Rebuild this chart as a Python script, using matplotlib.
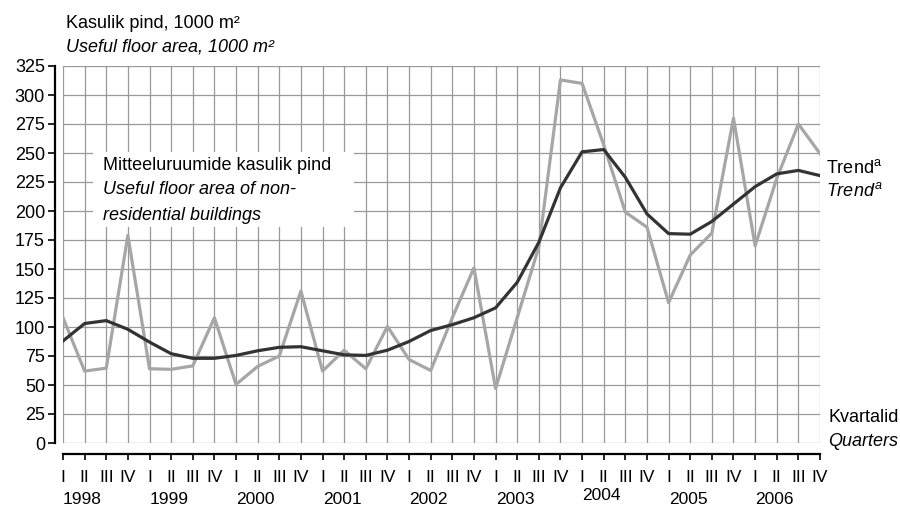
import matplotlib
matplotlib.use("Agg")
import matplotlib.pyplot as plt
from matplotlib.patches import Rectangle
from matplotlib.transforms import blended_transform_factory
import numpy as np

plt.rcParams['font.family'] = ['Liberation Sans', 'DejaVu Sans']
plt.rcParams['mathtext.fontset'] = 'custom'
plt.rcParams['mathtext.rm'] = 'Liberation Sans'
plt.rcParams['mathtext.it'] = 'Liberation Sans:italic'

font_size = 13
xtick_fontsize = 12.5

# data, 1998 I .. 2006 IV
years = ["1998", "1999", "2000", "2001", "2002", "2003", "2004", "2005", "2006"]
quarters = ["I", "II", "III", "IV"]

floor_area = [108, 62, 64.5, 179, 64, 63.5, 66.5, 108, 50.5, 66, 75, 131,
              62, 80, 64, 100.5, 72, 62.5, 108, 151, 47, 108, 169, 313,
              310, 257, 199, 186, 121, 162, 181, 280, 170, 228, 275, 249.5]

trend = [88, 103, 105.5, 98, 87, 77, 73, 73, 75.5, 79.5, 82.5, 83,
         79.5, 76, 75.5, 80, 87.5, 97, 102, 108, 116.5, 138.5, 173, 220,
         251, 253, 229, 197.5, 180.5, 180, 191, 206, 221, 232, 235, 230.5]

y_ticks = [0, 25, 50, 75, 100, 125, 150, 175, 200, 225, 250, 275, 300, 325]

W, H = 900, 512
fig = plt.figure(figsize=(9, 5.12), dpi=100)
ax = fig.add_axes([63 / W, 1 - 443 / H, (820 - 63) / W, (443 - 66) / H])

x = np.arange(len(floor_area))

ax.set_axisbelow(True)
ax.grid(True, color="#999999", linewidth=0.9)

ax.plot(x, floor_area, color="#a6a6a6", linewidth=2.3, zorder=3)
ax.plot(x, trend, color="#333333", linewidth=2.3, zorder=4)

# white box behind the series label
ax.add_patch(Rectangle((1.39, 186), 12.06, 64.5, facecolor="white",
                       edgecolor="none", zorder=1))

ax.set_xlim(0, len(x) - 1)
ax.set_ylim(0, 325)

ax.set_yticks(y_ticks)
ax.set_yticklabels([str(v) for v in y_ticks])
ax.set_xticks(x)
ax.set_xticklabels([quarters[i % 4] for i in x])

for s in ["top", "right"]:
	ax.spines[s].set_visible(False)
ax.spines["left"].set_position(("outward", 6))
ax.spines["bottom"].set_position(("outward", 8))
ax.spines["left"].set_linewidth(1.6)
ax.spines["bottom"].set_linewidth(1.6)

ax.tick_params(axis="y", direction="out", length=5, width=1.2, pad=2,
               labelsize=font_size)
ax.tick_params(axis="x", direction="out", length=4.5, width=1.2, pad=7,
               labelsize=xtick_fontsize)

trans = blended_transform_factory(ax.transData, fig.transFigure)
for k, yr in enumerate(years):
	yy = 500 if yr != "2004" else 495
	ax.text(4 * k + 0.9, 1 - yy / H, yr, transform=trans, ha="center",
	        va="center", fontsize=xtick_fontsize)

def ftext(px, py, s, **kw):
	fig.text(px / W, 1 - py / H, s, ha="left", va="center",
	         fontsize=font_size, **kw)

ftext(66, 23, "Kasulik pind, 1000 m²")
ftext(66, 47, "Useful floor area, 1000 m²", style="italic")

ftext(103, 165, "Mitteeluruumide kasulik pind")
ftext(103, 190, "Useful floor area of non-", style="italic")
ftext(103, 215, "residential buildings", style="italic")

ftext(826, 168, r"Trend$^{\mathrm{a}}$")
ftext(826, 191, r"$\mathit{Trend}^{a}$")
ftext(828, 418, "Kvartalid")
ftext(828, 441, "Quarters", style="italic")

fig.savefig("out.png", dpi=100)
